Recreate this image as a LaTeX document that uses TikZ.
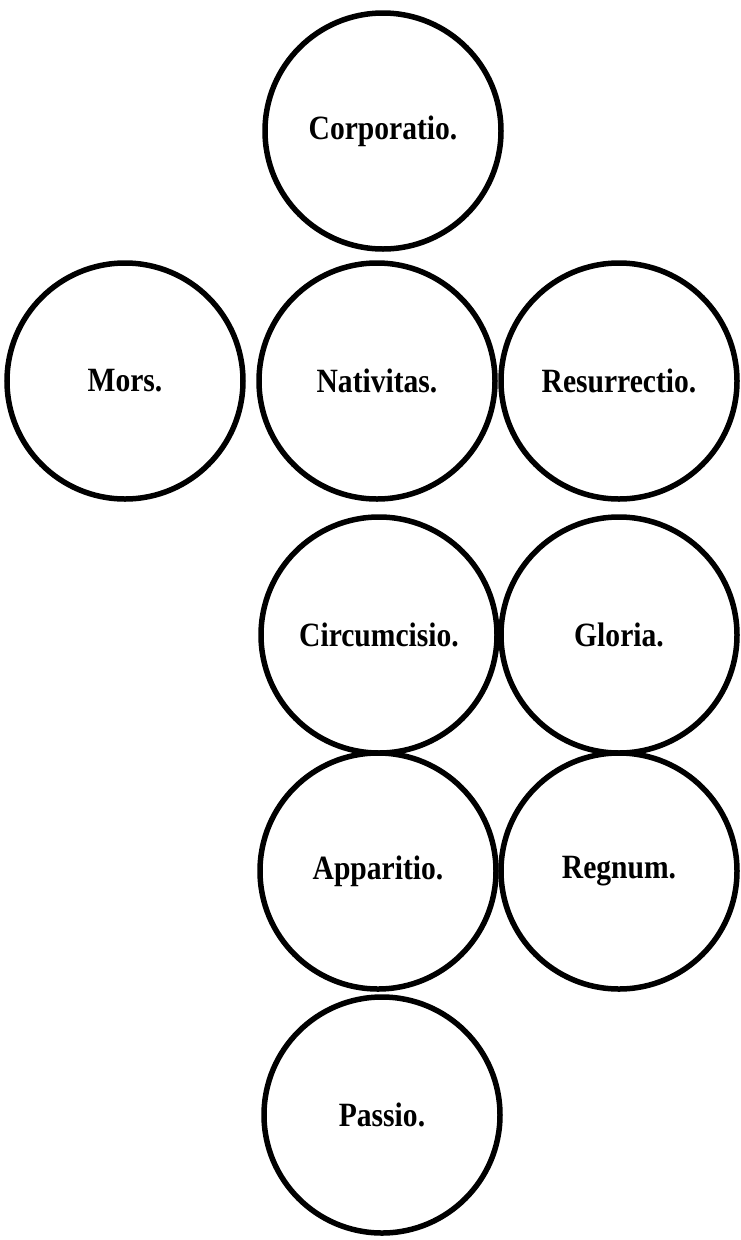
\documentclass[tikz,border=0pt]{standalone}
\usepackage{fontspec}
\setmainfont{Liberation Serif}[FakeStretch=0.87]
\usetikzlibrary{shapes.geometric, positioning}

\begin{document}
\begin{tikzpicture}[x=1pt, y=-1pt, disc/.style={draw, circle, minimum size=236pt, inner sep=0pt, line width=5.5pt, font=\fontsize{34}{38}\selectfont\bfseries}]
\useasboundingbox (0,0) rectangle (740,1240);
\node[disc] (Corp) at (383, 131) {Corporatio.};
\node[disc] (Mors) at (125, 381) {Mors.};
\node[disc] (Nat) at (377, 381) {Nativitas.};
\node[disc] (Res) at (619, 381) {Resurrectio.};
\node[disc] (Circ) at (379, 635) {Circumcisio.};
\node[disc] (Glor) at (619, 635) {Gloria.};
\node[disc] (App) at (378, 871) {Apparitio.};
\node[disc] (Reg) at (619, 871) {Regnum.};
\node[disc] (Pass) at (382, 1115) {Passio.};
\end{tikzpicture}
\end{document}
